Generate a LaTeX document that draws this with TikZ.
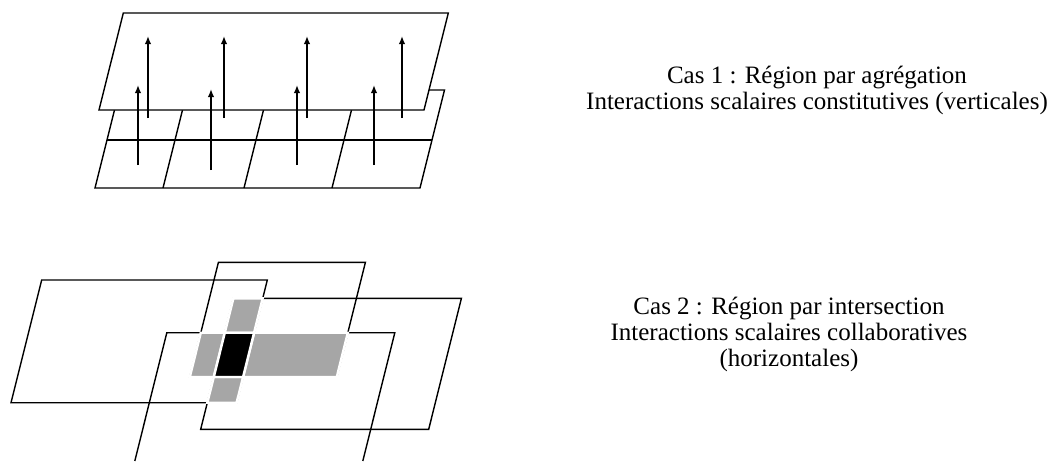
\documentclass[tikz,border=0pt]{standalone}
\usepackage{fontspec}
\setmainfont{Liberation Serif}
\usetikzlibrary{arrows.meta}
\tikzset{
  plan/.style={draw,line width=1.4pt,line join=miter},
  fleche/.style={line width=1.9pt,-{Latex[length=8pt,width=6.5pt]}},
  cellule/.style={fill=black!35,draw=white,line width=2.4pt},
  centre/.style={fill=black,draw=white,line width=2.4pt},
  legende/.style={align=center,font=\fontsize{25}{26}\selectfont}
}
\begin{document}
\begin{tikzpicture}[x=1pt,y=-1pt]
\useasboundingbox (0,0) rectangle (1057,461);
% cas 1
\coordinate (g1) at (95,188);
\coordinate (g2) at (420,188);
\coordinate (g3) at (444.5,90);
\coordinate (g4) at (119.5,90);
\coordinate (m1) at (107,140);
\coordinate (m2) at (432,140);
\coordinate (d1) at (163,188);
\coordinate (d2) at (244,188);
\coordinate (d3) at (332,188);
\coordinate (e1) at (187.5,90);
\coordinate (e2) at (268.5,90);
\coordinate (e3) at (356.5,90);
\draw[plan] (g1) -- (g2) -- (g3) -- (g4) -- cycle;
\draw[plan] (m1) -- (m2);
\draw[plan] (d1) -- (e1);
\draw[plan] (d2) -- (e2);
\draw[plan] (d3) -- (e3);
\coordinate (h1) at (99,110);
\coordinate (h2) at (424,110);
\coordinate (h3) at (448.3,13);
\coordinate (h4) at (123.3,13);
\draw[plan,fill=white] (h1) -- (h2) -- (h3) -- (h4) -- cycle;
\coordinate (a1) at (138,165);
\coordinate (b1) at (138,85);
\coordinate (a2) at (211,170);
\coordinate (b2) at (211,89);
\coordinate (a3) at (297,165);
\coordinate (b3) at (297,85);
\coordinate (a4) at (374,165);
\coordinate (b4) at (374,85);
\coordinate (a5) at (148,118);
\coordinate (b5) at (148,36);
\coordinate (a6) at (224,118);
\coordinate (b6) at (224,36);
\coordinate (a7) at (307,118);
\coordinate (b7) at (307,36);
\coordinate (a8) at (402,118);
\coordinate (b8) at (402,36);
\draw[fleche] (a1) -- (b1);
\draw[fleche] (a2) -- (b2);
\draw[fleche] (a3) -- (b3);
\draw[fleche] (a4) -- (b4);
\draw[fleche] (a5) -- (b5);
\draw[fleche] (a6) -- (b6);
\draw[fleche] (a7) -- (b7);
\draw[fleche] (a8) -- (b8);
\node[legende] (cas1) at (817,90) {Cas 1 : Région par agrégation\\Interactions scalaires constitutives (verticales)};
% cas 2
\coordinate (pA1) at (11,402.7);
\coordinate (pA2) at (236.6,402.7);
\coordinate (pA3) at (267.3,280);
\coordinate (pA4) at (41.7,280);
\coordinate (pB1) at (189.8,377);
\coordinate (pB2) at (336.8,377);
\coordinate (pB3) at (365.4,262.3);
\coordinate (pB4) at (218.4,262.3);
\coordinate (pC1) at (200.7,429.3);
\coordinate (pC2) at (428.7,429.3);
\coordinate (pC3) at (461.4,298.3);
\coordinate (pC4) at (233.4,298.3);
\coordinate (pD1) at (134.8,461);
\coordinate (pD2) at (362.8,461);
\coordinate (pD3) at (394.8,332.7);
\coordinate (pD4) at (166.8,332.7);
\draw[plan] (pA1) -- (pA2) -- (pA3) -- (pA4) -- cycle;
\draw[plan] (pB1) -- (pB2) -- (pB3) -- (pB4) -- cycle;
\draw[plan] (pC1) -- (pC2) -- (pC3) -- (pC4) -- cycle;
\draw[plan] (pD1) -- (pD4) -- (pD3) -- (pD2);
\draw[cellule] (224.8,332.7) -- (254.1,332.7) -- (262.7,298.3) -- (233.4,298.3) -- cycle;
\draw[cellule] (189.8,377) -- (213.8,377) -- (224.8,332.7) -- (200.8,332.7) -- cycle;
\draw[cellule] (243.1,377) -- (336.8,377) -- (347.8,332.7) -- (254.1,332.7) -- cycle;
\draw[cellule] (207.3,402.7) -- (236.6,402.7) -- (243.1,377) -- (213.8,377) -- cycle;
\draw[centre] (213.8,377) -- (243.1,377) -- (254.1,332.7) -- (224.8,332.7) -- cycle;
\node[legende] (cas2) at (789,334) {Cas 2 : Région par intersection\\Interactions scalaires collaboratives\\(horizontales)};
\end{tikzpicture}
\end{document}
